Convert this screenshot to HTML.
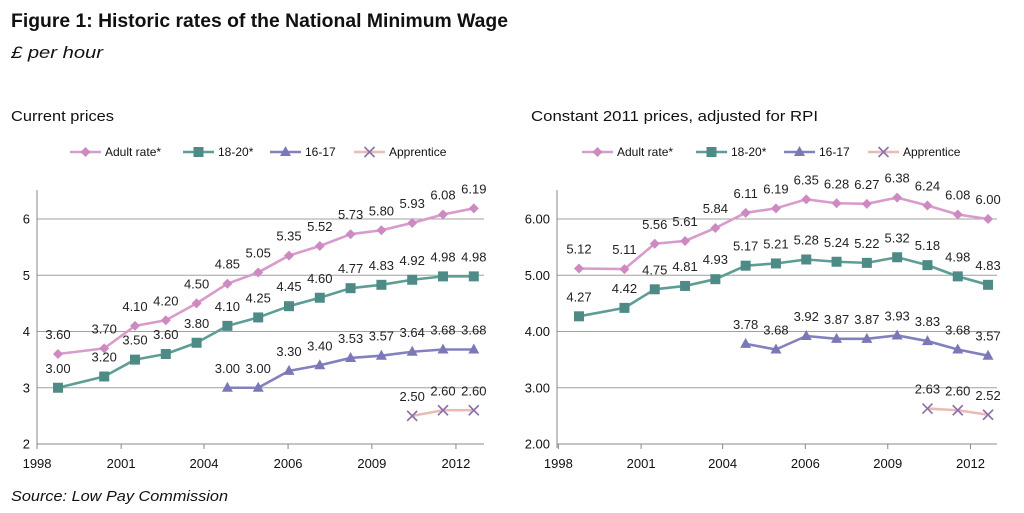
<!DOCTYPE html>
<html><head><meta charset="utf-8"><style>
html,body{margin:0;padding:0;background:#fff;}
svg{display:block;font-family:"Liberation Sans",Arial,sans-serif;}
</style></head><body>
<svg id="root" width="1024" height="513" viewBox="0 0 1024 513" xmlns="http://www.w3.org/2000/svg">
<text x="11" y="27" font-size="19" font-weight="bold" fill="#111" textLength="497" lengthAdjust="spacingAndGlyphs">Figure 1: Historic rates of the National Minimum Wage</text>
<text x="11" y="58" font-size="17" font-style="italic" fill="#111" textLength="92" lengthAdjust="spacingAndGlyphs">£ per hour</text>
<text x="11" y="121" font-size="15" fill="#111" textLength="103" lengthAdjust="spacingAndGlyphs">Current prices</text>
<text x="531" y="121" font-size="15" fill="#111" textLength="287" lengthAdjust="spacingAndGlyphs">Constant 2011 prices, adjusted for RPI</text>
<text x="11" y="501" font-size="15" font-style="italic" fill="#111" textLength="217" lengthAdjust="spacingAndGlyphs">Source: Low Pay Commission</text>
<g id="left"></g>
<g id="right"></g>
</svg>
<script>
// shared
const seriesNames = ["Adult rate*", "18-20*", "16-17", "Apprentice"];
const xFull = [1999.25,2000.75,2001.75,2002.75,2003.75,2004.75,2005.75,2006.75,2007.75,2008.75,2009.75,2010.75,2011.75,2012.75];
const x1617 = [2004.75,2005.75,2006.75,2007.75,2008.75,2009.75,2010.75,2011.75,2012.75];
const xAppr = [2010.75,2011.75,2012.75];
const xTickLabels = ["1998","2001","2004","2006","2009","2012"];
const xTickVals = [1998.57,2001.30,2003.99,2006.72,2009.44,2012.17];
const yTicks = [2,3,4,5,6];
// left chart data (current prices)
const leftAdult = [3.60,3.70,4.10,4.20,4.50,4.85,5.05,5.35,5.52,5.73,5.80,5.93,6.08,6.19];
const left1820 = [3.00,3.20,3.50,3.60,3.80,4.10,4.25,4.45,4.60,4.77,4.83,4.92,4.98,4.98];
const left1617 = [3.00,3.00,3.30,3.40,3.53,3.57,3.64,3.68,3.68];
const leftAppr = [2.50,2.60,2.60];
// right chart data (constant 2011 prices)
const rightAdult = [5.12,5.11,5.56,5.61,5.84,6.11,6.19,6.35,6.28,6.27,6.38,6.24,6.08,6.00];
const right1820 = [4.27,4.42,4.75,4.81,4.93,5.17,5.21,5.28,5.24,5.22,5.32,5.18,4.98,4.83];
const right1617 = [3.78,3.68,3.92,3.87,3.87,3.93,3.83,3.68,3.57];
const rightAppr = [2.63,2.60,2.52];

const NS="http://www.w3.org/2000/svg";
function mk(tag,attrs,parent){const e=document.createElementNS(NS,tag);for(const k in attrs)e.setAttribute(k,attrs[k]);parent.appendChild(e);return e;}
const styles=[
 {line:"#d99bcb",mark:"#cc8ac0",shape:"diamond"},
 {line:"#5e9d95",mark:"#4f8b86",shape:"square"},
 {line:"#8480c0",mark:"#7b78b8",shape:"triangle"},
 {line:"#e8bcb4",mark:"#8b70a8",shape:"x"}
];
function marker(g,shape,cx,cy,col){
  let m;
  if(shape==="diamond") m=mk("polygon",{points:`${cx},${cy-5} ${cx+5},${cy} ${cx},${cy+5} ${cx-5},${cy}`,fill:col},g);
  else if(shape==="square") m=mk("rect",{x:cx-5,y:cy-5,width:10,height:10,fill:col},g);
  else if(shape==="triangle") m=mk("polygon",{points:`${cx},${cy-6} ${cx+5.5},${cy+4} ${cx-5.5},${cy+4}`,fill:col},g);
  else m=mk("path",{d:`M${cx-5},${cy-5}L${cx+5},${cy+5}M${cx+5},${cy-5}L${cx-5},${cy+5}`,stroke:col,"stroke-width":1.6,fill:"none"},g);
  return m;
}
function drawChart(root,cfg,data,prefix){
  const xs=v=>cfg.x0+(v-1999.25)*cfg.sx;
  const ys=v=>444-(v-2)*56.25;
  yTicks.forEach(t=>{
    const y=ys(t);
    const l=mk("line",{x1:cfg.ax,x2:cfg.right,y1:y,y2:y,stroke:t===2?"#888":"#a0a0a0","stroke-width":1},root);
    
    
    const tx=mk("text",{x:cfg.ax-7,y:y+4.5,"font-size":13,"text-anchor":"end",fill:"#111"},root);
    tx.textContent=cfg.dec?t.toFixed(2):String(t);
    
    
  });
  const ax=mk("line",{x1:cfg.ax,x2:cfg.ax,y1:190,y2:448,stroke:"#888","stroke-width":1},root);
  
  
  xTickVals.forEach((v,i)=>{
    const x=xs(v);
    const tk=mk("line",{x1:x,x2:x,y1:444,y2:449,stroke:"#888"},root);
    
    
    const tx=mk("text",{x:x,y:468,"font-size":13,"text-anchor":"middle",fill:"#111"},root);
    tx.textContent=xTickLabels[i];
    
    
  });
  cfg.legend.forEach((lx,i)=>{
    const g=mk("g",{},root);
    
    
    mk("line",{x1:lx,x2:lx+31,y1:152,y2:152,stroke:styles[i].line,"stroke-width":2.5},g);
    marker(g,styles[i].shape,lx+15.5,152,styles[i].mark);
    const t=mk("text",{x:lx+35,y:156,"font-size":12,fill:"#111"},g);
    t.textContent=seriesNames[i];
  });
  data.forEach((s,i)=>{
    const g=mk("g",{},root);
    
    
    const pts=s.vals.map((v,j)=>[xs(s.xv[j]),ys(v)]);
    const pl=mk("polyline",{points:pts.map(p=>p.join(",")).join(" "),fill:"none",stroke:styles[i].line,"stroke-width":2.6,"stroke-linejoin":"round"},g);
    
    
    pts.forEach((p,j)=>{
      const m=marker(g,styles[i].shape,p[0],p[1],styles[i].mark);
      
      
      const t=mk("text",{x:p[0],y:p[1]-15,"font-size":13,"text-anchor":"middle",fill:"#222"},g);
      t.textContent=s.vals[j].toFixed(2);
      
      
    });
  });
}
drawChart(document.getElementById("left"),
  {x0:58,sx:30.8,ax:37,right:484,dec:false,legend:[70,183,270,354]},
  [{vals:leftAdult,xv:xFull},{vals:left1820,xv:xFull},{vals:left1617,xv:x1617},{vals:leftAppr,xv:xAppr}],"left");
drawChart(document.getElementById("right"),
  {x0:579,sx:30.3,ax:557,right:997,dec:true,legend:[582,696,784,868]},
  [{vals:rightAdult,xv:xFull},{vals:right1820,xv:xFull},{vals:right1617,xv:x1617},{vals:rightAppr,xv:xAppr}],"right");
</script>
</body></html>
